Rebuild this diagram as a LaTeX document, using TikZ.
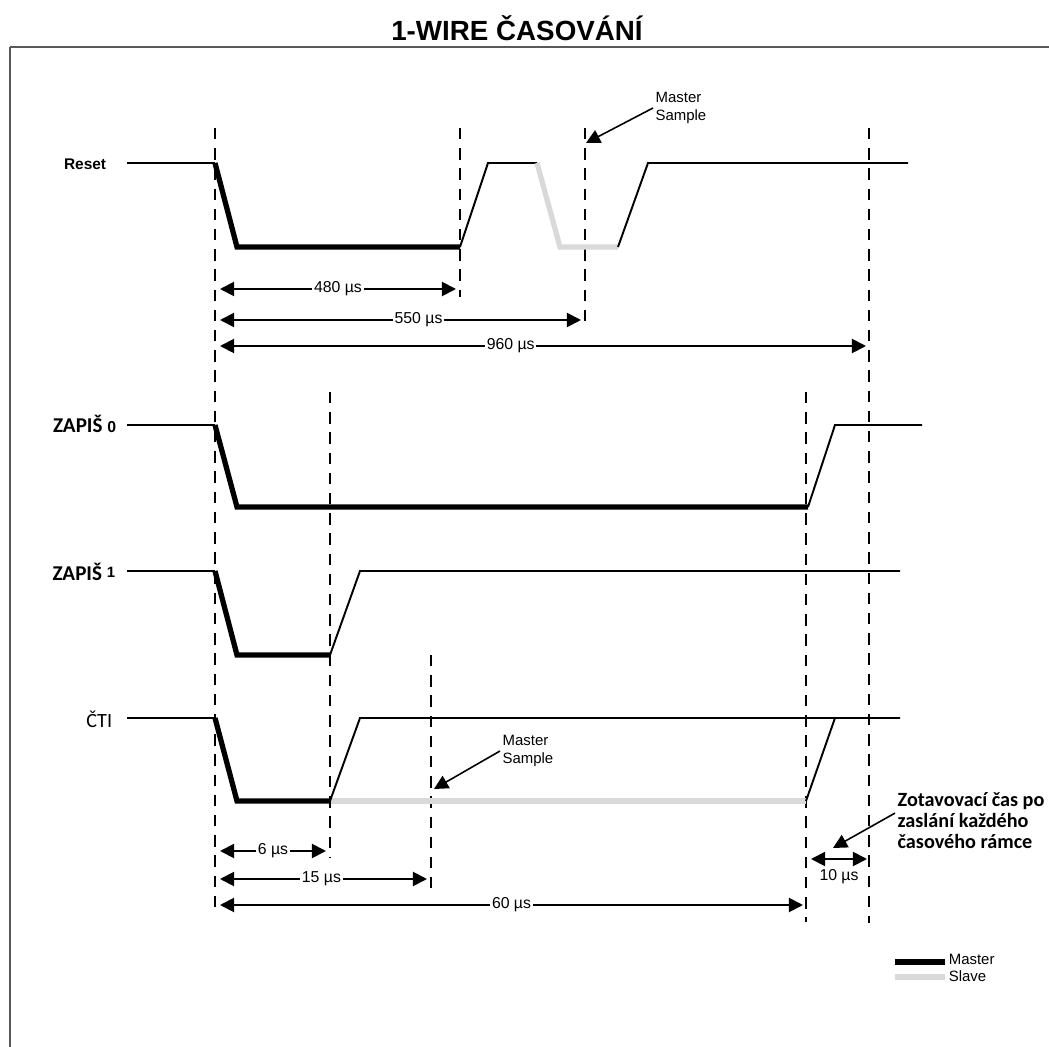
\documentclass[tikz,border=0pt]{standalone}
\usepackage{fontspec}
\setmainfont{Liberation Sans}
\newfontfamily\carlito{Carlito}
\usepackage{tikz}
\usetikzlibrary{arrows.meta}

\definecolor{slavegray}{gray}{0.85}
\definecolor{framegray}{gray}{0.35}

\tikzset{
    sig/.style={line width=1.1pt},
    master/.style={line width=3pt},
    slave/.style={line width=3pt, color=slavegray},
    guide/.style={line width=0.75pt, dash pattern=on 6.5pt off 5pt},
    dim/.style={line width=1.1pt, {Triangle[length=8pt, width=8pt]}-{Triangle[length=8pt, width=8pt]}},
    dimlabel/.style={fill=white, inner sep=1pt, font=\fontsize{9}{10}\selectfont},
    pointer/.style={line width=0.9pt, -{Triangle[length=8pt, width=8pt]}},
    note/.style={align=left, anchor=west, inner sep=1pt, font=\fontsize{8.5}{10}\selectfont},
}

\begin{document}
\begin{tikzpicture}[x=0.02cm, y=-0.02cm, line width=1pt]
    \useasboundingbox (0,0) rectangle (1049,1047);

    % Rahmen.
    \draw[color=framegray, line width=1.3pt] (10,47) -- (1049,47);
    \draw[color=framegray, line width=0.8pt] (10,47) -- (10,1047);
    \node (title) at (517,28) {\fontsize{15.8}{18}\selectfont\bfseries 1-WIRE ČASOVÁNÍ};

    % Hilfslinien.
    \foreach \x/\a/\b in {215/128/907, 330/392/858, 431/655/888, 460/128/297, 585/128/330, 806/392/922, 869/128/923}
    {
        \draw[guide] (\x,\a) -- (\x,\b);
    }

    % Signale.
    \foreach \hi/\lo/\e in {163/247/460, 425/507/808, 571/655/330, 718/801/330}
    {
        \draw[sig] (127,\hi) -- (215,\hi);
        \draw[master] (215,\hi) -- (237,\lo) -- (\e,\lo);
    }
    \draw[sig] (460,247) -- (488,163) -- (537,163);
    \draw[slave] (537,163) -- (560,247) -- (618,247);
    \draw[sig] (618,247) -- (648,163) -- (908,163);

    \draw[sig] (808,507) -- (835,425) -- (922,425);

    \draw[sig] (330,655) -- (360,571) -- (900,571);

    \draw[slave] (331,801) -- (806,801);
    \draw[sig] (330,801) -- (360,718) -- (900,718);
    \draw[sig] (806,801) -- (835,718);

    % Beschriftung.
    \node[anchor=east, inner sep=0pt] (reset) at (107,164) {\fontsize{8.8}{10}\selectfont\bfseries Reset};
    \node[anchor=east, inner sep=0pt] (zero) at (117,424) {\carlito\fontsize{12}{13}\selectfont\bfseries ZAPIŠ \fontsize{9}{10}\selectfont\rmfamily\bfseries 0};
    \node[anchor=east, inner sep=0pt] (one) at (116,572) {\carlito\fontsize{12}{13}\selectfont\bfseries ZAPIŠ \raisebox{1.5pt}{\fontsize{8.5}{10}\selectfont\rmfamily\bfseries 1}};
    \node[anchor=east, inner sep=0pt] (read) at (113,719) {\carlito\fontsize{11.5}{13}\selectfont ČTI};

    % Bemaßung.
    \draw[dim] (220,289) -- node[dimlabel] (d480) {480 µs} (456,289);
    \draw[dim] (220,320) -- node[dimlabel, pos=.55] (d550) {550 µs} (581,320);
    \draw[dim] (220,346) -- node[dimlabel, pos=.45] (d960) {960 µs} (866,346);
    \draw[dim] (220,851) -- node[dimlabel] (d6) {6 µs} (326,851);
    \draw[dim] (220,879) -- node[dimlabel, pos=.49] (d15) {15 µs} (427,879);
    \draw[dim] (220,905) -- node[dimlabel] (d60) {60 µs} (803,905);
    \draw[dim] (811,859) -- (867,859);
    \node[dimlabel] (d10) at (839,877) {10 µs};

    % Abtastung.
    \node[note] (sampletop) at (653,108) {Master\\Sample};
    \draw[pointer] (sampletop.west) -- (586,143);
    \node[note] (samplebot) at (500,751) {Master\\Sample};
    \draw[pointer] (samplebot.west) -- (434,789);

    \node[anchor=west, align=left, inner sep=1pt, font=\carlito\fontsize{11.5}{12}\selectfont\bfseries] (recovery) at (895,821)
        {Zotavovací čas po\\zaslání každého\\časového rámce};
    \draw[pointer] ([yshift=4.5pt]recovery.west) -- (833,848);

    % Legende.
    \draw[master] (895,962) -- (945,962);
    \draw[slave] (895,977) -- (945,977);
    \node[note, inner sep=0pt] (lmaster) at (948,959) {Master};
    \node[note, inner sep=0pt] (lslave) at (948,976) {Slave};
\end{tikzpicture}
\end{document}
